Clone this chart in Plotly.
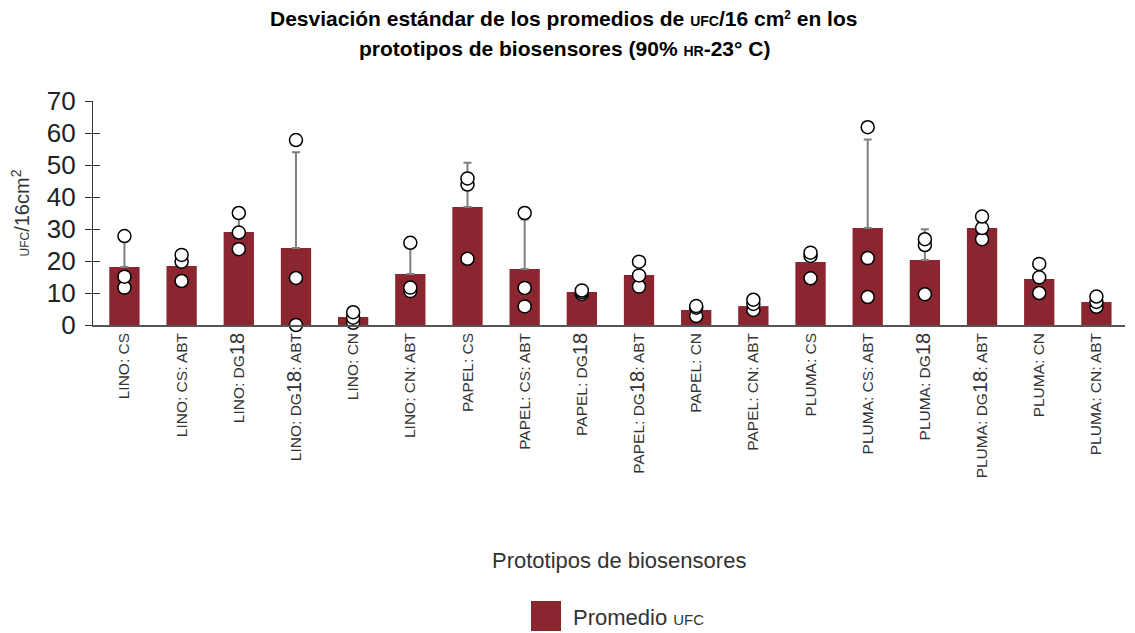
import plotly.graph_objects as go

categories = [
    "LINO: CS", "LINO: CS: ABT", "LINO: DG18", "LINO: DG18: ABT", "LINO: CN", "LINO: CN: ABT",
    "PAPEL: CS", "PAPEL: CS: ABT", "PAPEL: DG18", "PAPEL: DG18: ABT", "PAPEL: CN", "PAPEL: CN: ABT",
    "PLUMA: CS", "PLUMA: CS: ABT", "PLUMA: DG18", "PLUMA: DG18: ABT", "PLUMA: CN", "PLUMA: CN: ABT",
]
mean_ufc = [18.1, 18.4, 29.1, 24.1, 2.5, 15.9,
            36.9, 17.5, 10.3, 15.6, 4.7, 5.9,
            19.7, 30.3, 20.3, 30.3, 14.4, 7.2]
sd_ufc = [8.4, 4.3, 5.7, 29.9, 1.6, 8.4,
          13.8, 15.5, 0.5, 4.0, 1.7, 1.6,
          4.4, 27.7, 9.6, 3.6, 4.6, 1.6]
rep1 = [27.8, 21.9, 35.0, 57.8, 4.0, 25.7, 45.8, 35.0, 10.8, 19.8, 5.9, 7.9, 22.6, 61.8, 26.8, 33.9, 19.1, 8.9]
rep2 = [15.1, 19.8, 28.9, 14.7, 2.3, 11.7, 43.9, 11.6, 10.3, 15.5, 5.4, 6.6, 21.6, 20.9, 25.0, 30.3, 14.9, 7.2]
rep3 = [11.7, 13.75, 23.7, 0.0, 0.7, 10.6, 20.7, 5.8, 9.7, 12.0, 2.8, 4.7, 14.6, 8.75, 9.6, 26.8, 10.0, 5.7]

y_ticks = [0, 10, 20, 30, 40, 50, 60, 70]

BAR = "#8B2630"
FONT = "Liberation Sans"

# page offset: the browser body adds 8 px margin
PW, PH = 1135 - 8, 633 - 8
L, T = 85, 93
PLOT_W, PLOT_H = 1032, 224


def px_x(page_x):
    return (page_x - 93) / PLOT_W


def px_y(page_y):
    return (325 - page_y) / PLOT_H


def fmt_label(c):
    return c.replace("18", "<span style='font-size:20px'>18</span>")


tick_text = [fmt_label(c) for c in categories]

fig = go.Figure()
fig.add_trace(go.Bar(
    x=categories, y=mean_ufc, width=0.53, marker_color=BAR, marker_line_width=0,
    error_y=dict(type="data", array=sd_ufc, arrayminus=[0] * len(sd_ufc), symmetric=False,
                 color="#7f7f7f", thickness=2, width=4),
    showlegend=False,
))
for reps in (rep3, rep2, rep1):
    fig.add_trace(go.Scatter(
        x=categories, y=reps, mode="markers", cliponaxis=False, showlegend=False,
        marker=dict(size=13, color="white", line=dict(color="black", width=1.5)),
    ))

# overlay axis carrying the inner half of the crossing tick marks
fig.add_trace(go.Scatter(x=[categories[0]], y=[None], yaxis="y2", showlegend=False, hoverinfo="skip"))

fig.update_layout(
    width=PW, height=PH,
    paper_bgcolor="white", plot_bgcolor="white",
    margin=dict(l=L, r=PW - L - PLOT_W, t=T, b=PH - T - PLOT_H, autoexpand=False),
    font=dict(family=FONT, color="#222"),
    showlegend=False,
    xaxis=dict(
        type="category", categoryorder="array", categoryarray=categories,
        tickmode="array", tickvals=categories, ticktext=tick_text,
        tickangle=-90, tickfont=dict(size=15.5, color="#333"),
        showline=True, linecolor="#555", linewidth=1.5, ticks="",
        showgrid=False, zeroline=False, range=[-0.55, 17.5], automargin=False,
    ),
    yaxis=dict(
        range=[0, 70], tickvals=y_ticks, ticks="outside", ticklen=7, tickwidth=1.2,
        tickcolor="#333", showline=True, linecolor="#333", linewidth=1.2,
        showgrid=False, zeroline=False, tickfont=dict(size=26, color="#222"),
        ticklabelstandoff=4, automargin=False,
        title=dict(text="<span style='font-size:12px'>UFC</span>/16cm<sup>2</sup>",
                   font=dict(size=20, color="#333"), standoff=12),
    ),
    yaxis2=dict(
        range=[0, 70], tickvals=y_ticks, ticks="inside", ticklen=7, tickwidth=1.2,
        tickcolor="#333", overlaying="y", side="left", showticklabels=False,
        showgrid=False, zeroline=False, showline=False,
    ),
)

# title (two lines)
fig.add_annotation(
    text="<b>Desviación estándar de los promedios de <span style='font-size:14px'>UFC</span>/16 cm<span style='font-size:17px'><sup>2</sup></span> en los</b>",
    xref="paper", yref="paper", x=px_x(563), y=px_y(18), xanchor="center", yanchor="middle",
    showarrow=False, font=dict(size=21, color="black", family=FONT),
)
fig.add_annotation(
    text="<b>prototipos de biosensores (90% <span style='font-size:14px'>HR</span>-23° C)</b>",
    xref="paper", yref="paper", x=px_x(564), y=px_y(48), xanchor="center", yanchor="middle",
    showarrow=False, font=dict(size=21, color="black", family=FONT),
)
# x-axis title
fig.add_annotation(
    text="Prototipos de biosensores", xref="paper", yref="paper",
    x=px_x(619), y=px_y(560), xanchor="center", yanchor="middle",
    showarrow=False, font=dict(size=22, color="#333", family=FONT),
)
# legend
fig.add_shape(type="rect", xref="paper", yref="paper",
              x0=px_x(531), x1=px_x(561), y0=px_y(601), y1=px_y(631),
              fillcolor=BAR, line=dict(width=0))
fig.add_annotation(
    text="Promedio <span style='font-size:15px'>UFC</span>", xref="paper", yref="paper",
    x=px_x(571), y=px_y(617), xanchor="left", yanchor="middle",
    showarrow=False, font=dict(size=22, color="#333", family=FONT),
)

fig.write_html("out.html")
